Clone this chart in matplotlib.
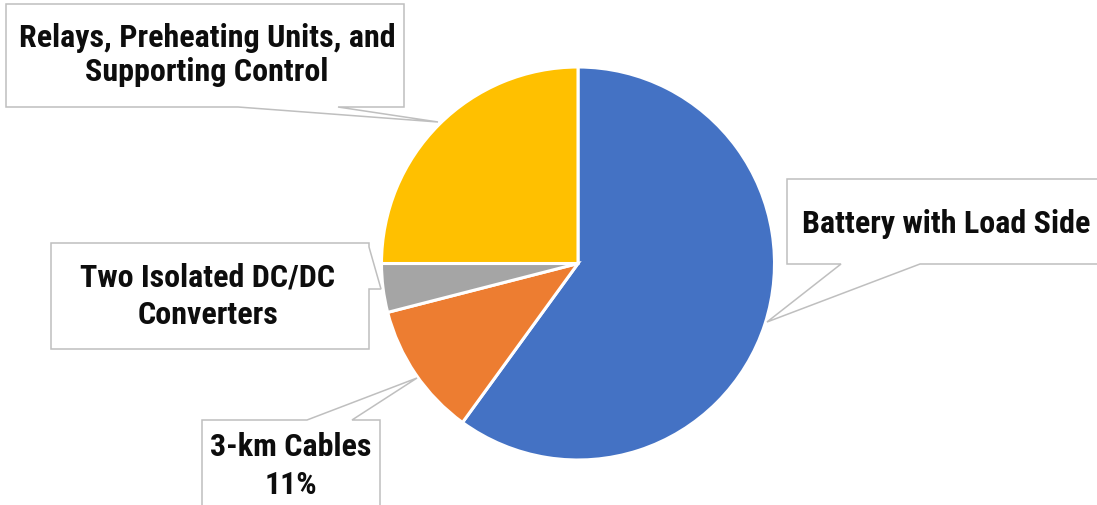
import matplotlib
matplotlib.use("Agg")
import matplotlib.pyplot as plt
import matplotlib.font_manager as fm
from matplotlib.patches import Polygon

# Share of each subsystem (percent)
categories = [
    "Battery with Load Side",
    "3-km Cables",
    "Two Isolated DC/DC Converters",
    "Relays, Preheating Units, and Supporting Control",
]
values = [60, 11, 4, 25]
colors = ["#4472C4", "#ED7D31", "#A5A5A5", "#FFC000"]

# Callout texts (only the cable slice shows its percentage)
label_texts = [
    "Battery with Load Side",
    "3-km Cables\n{:.0f}%".format(values[1] / sum(values) * 100),
    "Two Isolated DC/DC\nConverters",
    "Relays, Preheating Units, and\nSupporting Control",
]

# Pick a narrow sans family if one is available
available = {f.name for f in fm.fontManager.ttflist}
font_kw = {"family": "DejaVu Sans"}
for fam in ["Roboto Condensed", "Liberation Sans Narrow", "Open Sans Condensed"]:
    if fam in available:
        font_kw = {"family": fam}
        break
else:
    if any(f.name == "DejaVu Sans" and f.stretch == "condensed" for f in fm.fontManager.ttflist):
        font_kw = {"family": "DejaVu Sans", "stretch": "condensed"}

W, H = 1097, 506
fig = plt.figure(figsize=(W / 100, H / 100), dpi=100)
ax = fig.add_axes([0, 0, 1, 1])

cx, cy, r = 578, 264.5, 196.5
ax.pie(values, colors=colors, startangle=-90, counterclock=True,
       center=(cx, cy), radius=r,
       wedgeprops=dict(edgecolor="white", linewidth=2.2))
ax.set_xlim(0, W)
ax.set_ylim(H, 0)
ax.set_aspect("equal")
ax.axis("off")

# Callout shapes: box outline with a pointer to the slice
callouts = [
    [(787, 180), (1110, 180), (1110, 265), (920, 265), (767, 323), (841, 265), (787, 265)],
    [(202, 421), (307, 421), (417, 379), (352, 421), (380, 421), (380, 520), (202, 520)],
    [(51, 244), (369, 244), (369, 248), (381, 290), (369, 290), (369, 350), (51, 350)],
    [(6, 5), (404, 5), (404, 108), (338, 108), (438, 123), (238, 108), (6, 108)],
]
text_pos = [(946, 224), (291, 466), (208, 296), (207, 55)]
line_gap = [1.25, 1.3, 1.3, 1.2]

for pts, txt, (tx, ty), ls in zip(callouts, label_texts, text_pos, line_gap):
    ax.add_patch(Polygon(pts, closed=True, facecolor="white",
                         edgecolor="#BFBFBF", linewidth=1.1, zorder=3,
                         joinstyle="miter"))
    ax.text(tx, ty, txt, ha="center", va="center", multialignment="center",
            fontsize=23, fontweight="bold", color="#0D0D0D",
            linespacing=ls, zorder=4, **font_kw)

fig.savefig("out.png", dpi=100)
